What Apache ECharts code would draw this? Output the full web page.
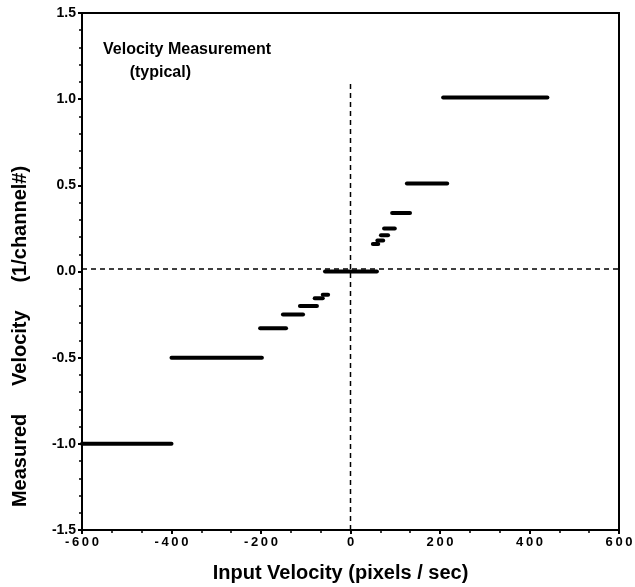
<!DOCTYPE html>
<html><head><meta charset="utf-8">
<script src="https://cdn.jsdelivr.net/npm/echarts@6/dist/echarts.min.js"></script>
<style>html,body{margin:0;padding:0;background:#fff}#c{width:635px;height:587px}</style>
</head><body><div id="c"></div>
<script>
// Step segments: start x, end x, measured velocity
const segStart = [-600, -400, -202, -151, -113, -80, -62, -57, 50, 60, 68, 75, 93, 126, 207];
const segEnd   = [-400, -198, -144, -106, -75, -62, -50, 59, 62, 73, 84, 99, 133, 216, 440];
const segValue = [-1.0, -0.5, -0.33, -0.25, -0.2, -0.155, -0.135, 0.0, 0.16, 0.18, 0.21, 0.25, 0.34, 0.51, 1.01];
// Dashed reference lines
const vRefX = [0, 0];
const vRefY = [-1.5, 1.11];
const hRefX = [-600, 600];
const hRefY = [0.015, 0.015];
const xTicks = [-600, -400, -200, 0, 200, 400, 600];
const yTicks = [-1.5, -1.0, -0.5, 0.0, 0.5, 1.0, 1.5];

const FONT = '"Liberation Sans", Arial, Helvetica, sans-serif';
const series = [];
series.push({type:'line', data: vRefX.map((x,i)=>[x, vRefY[i]]), symbol:'none', silent:true,
  lineStyle:{color:'#000', width:1.5, type:[5,4]}});
series.push({type:'line', data: hRefX.map((x,i)=>[x, hRefY[i]]), symbol:'none', silent:true,
  lineStyle:{color:'#000', width:1.5, type:[5,4]}});
segStart.forEach((s,i)=>{
  series.push({type:'line', data:[[s, segValue[i]], [segEnd[i], segValue[i]]], symbol:'none',
    lineStyle:{color:'#000', width:4, cap:'round'}});
});

const chart = echarts.init(document.getElementById('c'));
chart.setOption({
  animation:false,
  backgroundColor:'#fff',
  grid:{left:82, right:16, top:13, bottom:57, show:true, borderColor:'#000', borderWidth:2,
    containLabel:false, outerBoundsMode:'none'},
  title:{text:'Velocity Measurement\n      (typical)', left:103, top:38, padding:0,
    textStyle:{fontFamily:FONT, fontWeight:'bold', fontSize:16, color:'#000', lineHeight:23}},
  xAxis:{type:'value', min:xTicks[0], max:xTicks[xTicks.length-1], interval:200,
    name:'Input Velocity (pixels / sec)', nameLocation:'middle', nameGap:33,
    nameTextStyle:{fontFamily:FONT, fontWeight:'bold', fontSize:20, color:'#000', padding:[0,20,0,0]},
    axisLine:{show:true, onZero:false, lineStyle:{color:'#000', width:2}},
    axisTick:{show:true, length:4, lineStyle:{color:'#000', width:2}},
    minorTick:{show:true, splitNumber:3, length:3, lineStyle:{color:'#000', width:1.5}},
    splitLine:{show:false},
    axisLabel:{fontFamily:FONT, fontWeight:'bold', fontSize:13, color:'#000', margin:6,
      formatter:v=>String(v).split('').join('\u2009')}},
  yAxis:{type:'value', min:yTicks[0], max:yTicks[yTicks.length-1], interval:0.5,
    name:'Measured     Velocity     (1/channel#)', nameLocation:'middle', nameGap:52,
    nameTextStyle:{fontFamily:FONT, fontWeight:'bold', fontSize:20, color:'#000', padding:[0,130,0,0]},
    axisLine:{show:true, onZero:false, lineStyle:{color:'#000', width:2}},
    axisTick:{show:true, length:4, lineStyle:{color:'#000', width:2}},
    minorTick:{show:true, splitNumber:5, length:3, lineStyle:{color:'#000', width:1.5}},
    splitLine:{show:false},
    axisLabel:{fontFamily:FONT, fontWeight:'bold', fontSize:14, color:'#000', margin:6,
      formatter:v=>v.toFixed(1)}},
  series: series
});
</script></body></html>
